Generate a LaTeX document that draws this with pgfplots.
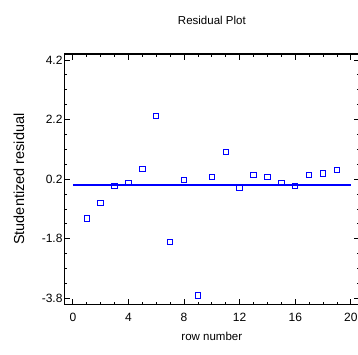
\documentclass[border=0pt]{standalone}
\usepackage{fontspec}
\setmainfont{Liberation Sans}
\usepackage{pgfplots}
\pgfplotsset{compat=1.18}
\definecolor{resblue}{RGB}{0,0,255}

% studentized residuals by row
\pgfplotstableread{
row  res
1   -1.12
2   -0.60
3   -0.03
4    0.08
5    0.54
6    2.31
7   -1.90
8    0.18
9   -3.71
10   0.28
11   1.11
12  -0.08
13   0.33
14   0.28
15   0.07
16  -0.03
17   0.33
18   0.39
19   0.50
}\residuals

% zero reference line
\pgfplotstableread{
row  res
0    0
20   0
}\zeroline

\begin{document}
\begin{tikzpicture}
\begin{axis}[
  scale only axis,
  width=294.7pt, height=250.3pt,
  xmin=-0.6, xmax=20.6, ymin=-4.0, ymax=4.4,
  xtick={0,4,8,12,16,20}, xticklabels={0,4,8,12,16,20},
  ytick={-3.8,-1.8,0.2,2.2,4.2}, yticklabels={-3.8,-1.8,0.2,2.2,4.2},
  minor x tick num=3, minor y tick num=3,
  tick align=inside,
  major tick length=5.5pt, minor tick length=2.5pt,
  tick style={black, line width=0.9pt},
  axis line style={black, line width=1.3pt},
  ticklabel style={font=\fontsize{12}{13}\selectfont},
  xticklabel style={yshift=-5pt},
  yticklabel style={xshift=1.5pt},
  every axis title/.style={at={(axis description cs:0.5,1)}, anchor=center, yshift=34pt, font=\fontsize{11.5}{13}\selectfont},
  every axis x label/.style={at={(axis description cs:0.5,0)}, anchor=center, yshift=-31.7pt, font=\fontsize{11.5}{13}\selectfont},
  every axis y label/.style={at={(axis description cs:0,0.5)}, xshift=-45.5pt, rotate=90, anchor=center, font=\fontsize{14.5}{15}\selectfont},
  title={Residual Plot},
  xlabel={row number},
  ylabel={Studentized residual},
  clip=false,
]
\addplot[only marks, mark=square, mark size=2.7pt, color=resblue, mark options={draw=resblue, line width=1pt}] table[x=row, y=res] {\residuals};
\addplot[resblue, line width=1.4pt, no markers] table[x=row, y=res] {\zeroline};
\coordinate (fsw) at (rel axis cs:0,0);
\coordinate (fne) at (rel axis cs:1,1);
\end{axis}
\pgfresetboundingbox
\path ([shift={(-64.5pt,-49.7pt)}]fsw) rectangle ([shift={(-1.2pt,54pt)}]fne);
\end{tikzpicture}
\end{document}
